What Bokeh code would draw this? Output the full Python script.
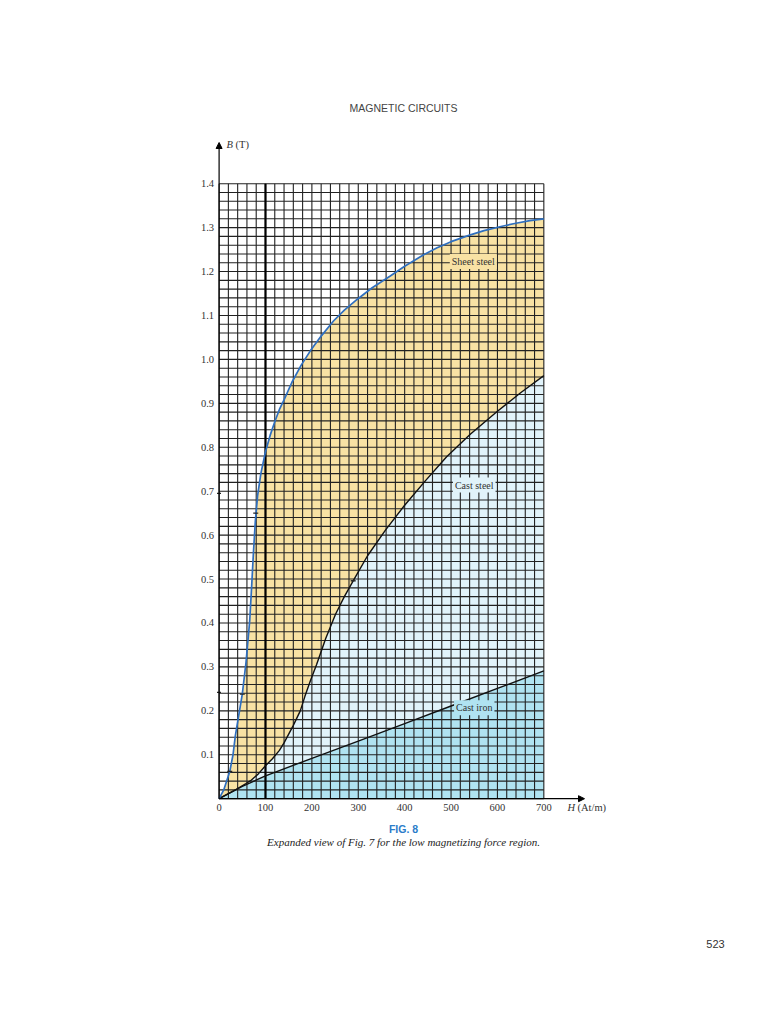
import numpy as np
from bokeh.plotting import figure
from bokeh.models import Range1d, Label, Arrow, NormalHead
from bokeh.core.properties import value
from bokeh.embed import file_html
from bokeh.resources import INLINE

# ---------------- data ----------------
sheet_H = [0, 10, 23, 30, 35, 40, 50, 58, 66, 70, 74, 78, 83, 90, 100, 110, 120, 130,
           140, 157, 177, 197, 220, 247, 270, 298, 330, 369, 400, 441, 470, 500, 540,
           571, 610, 640, 670, 700]
sheet_B = [0, 0.02, 0.062, 0.10, 0.143, 0.175, 0.238, 0.31, 0.405, 0.48, 0.56, 0.63,
           0.69, 0.74, 0.79, 0.827, 0.858, 0.886, 0.908, 0.948, 0.987, 1.02, 1.053,
           1.088, 1.112, 1.137, 1.163, 1.19, 1.212, 1.238, 1.254, 1.268, 1.283, 1.293,
           1.303, 1.31, 1.316, 1.32]

caststeel_H = [0, 30, 57, 68, 85, 100, 115, 130, 140, 150, 160, 175, 185, 197, 210, 230,
               251, 270, 289, 320, 359, 400, 445, 490, 542, 600, 650, 700]
caststeel_B = [0, 0.017, 0.034, 0.041, 0.057, 0.075, 0.091, 0.11, 0.127, 0.147, 0.167,
               0.20, 0.233, 0.269, 0.305, 0.365, 0.42, 0.46, 0.496, 0.553, 0.612, 0.668,
               0.724, 0.778, 0.83, 0.882, 0.924, 0.963]

castiron_H = [0, 50, 100, 200, 300, 400, 500, 600, 700]
castiron_B = [0, 0.028, 0.052, 0.092, 0.131, 0.171, 0.211, 0.251, 0.291]

sheet_marks_H = [23, 50, 79]
sheet_marks_B = [0.062, 0.238, 0.65]
steel_marks_H = [289]
steel_marks_B = [0.496]
axis_marks_B = [0.242, 0.695]

x_ticks = [0, 100, 200, 300, 400, 500, 600, 700]
x_tick_labels = ["0", "100", "200", "300", "400", "500", "600", "700"]
y_ticks = [0.1, 0.2, 0.3, 0.4, 0.5, 0.6, 0.7, 0.8, 0.9, 1.0, 1.1, 1.2, 1.3, 1.4]
y_tick_labels = ["0.1", "0.2", "0.3", "0.4", "0.5", "0.6", "0.7", "0.8", "0.9", "1.0",
                 "1.1", "1.2", "1.3", "1.4"]

H_MAX, B_MAX = 700, 1.4
H_STEP, B_STEP = 20, 0.02
curve_labels = ["Sheet steel", "Cast steel", "Cast iron"]
curve_label_H = [548, 550, 550]
curve_label_B = [1.223, 0.714, 0.207]

# ---------------- layout / styles ----------------
W, HGT, OFFSET = 752, 1000, 0
PX0, PXS = 218.6, 0.4639      # page px of H=0, px per At/m
PY0, PYS = 798.2, 439.3       # page px of B=0, px per T


def hx(px):
    return (px - PX0) / PXS


def by(py):
    return (PY0 - py) / PYS


YELLOW = "#f8e2a4"
PALE = "#e1f3fa"
BLUE = "#b0e3f1"
GRID = "#222222"
SERIF = "Liberation Serif"
SANS = "Liberation Sans"

p = figure(width=W, height=HGT,
           x_range=Range1d(hx(OFFSET), hx(OFFSET + W)),
           y_range=Range1d(by(OFFSET + HGT), by(OFFSET)),
           output_backend="svg", toolbar_location=None,
           x_axis_type=None, y_axis_type=None, min_border=0,
           outline_line_color=None, background_fill_color="white",
           border_fill_color="white")

# filled regions
p.patch(sheet_H + [H_MAX], sheet_B + [0], fill_color=YELLOW, line_color=None)
p.patch(caststeel_H + [H_MAX], caststeel_B + [0], fill_color=PALE, line_color=None)
p.patch(castiron_H + [H_MAX], castiron_B + [0], fill_color=BLUE, line_color=None)

# fine grid
gx = np.arange(0, H_MAX + 1, H_STEP)
gy = np.round(np.arange(0, B_MAX + 1e-9, B_STEP), 4)
p.segment(x0=gx, y0=0, x1=gx, y1=B_MAX, line_color=GRID, line_width=1.1)
p.segment(x0=0, y0=gy, x1=H_MAX, y1=gy, line_color=GRID, line_width=1.1)
p.segment(x0=[100], y0=[0], x1=[100], y1=[B_MAX], line_color="black", line_width=2.2)

# curves
p.line(castiron_H, castiron_B, line_color="#111111", line_width=1.4)
p.line(caststeel_H, caststeel_B, line_color="#111111", line_width=1.4)
p.line(sheet_H, sheet_B, line_color="#2f6fbf", line_width=1.7)

p.scatter(sheet_marks_H, sheet_marks_B, marker="dash", size=5, line_color="#222222",
          line_width=1.2)
p.scatter(steel_marks_H, steel_marks_B, marker="dash", size=5, line_color="#222222",
          line_width=1.5)
p.scatter([hx(218.5)] * len(axis_marks_B), axis_marks_B, marker="dash", size=4,
          line_color="#222222", line_width=1.2)

# axes with arrows
p.add_layout(Arrow(end=NormalHead(size=6, fill_color="black", line_color="black"),
                   x_start=0, y_start=0, x_end=0, y_end=by(142),
                   line_color="black", line_width=1.2))
p.add_layout(Arrow(end=NormalHead(size=6, fill_color="black", line_color="black"),
                   x_start=0, y_start=0, x_end=hx(584), y_end=0,
                   line_color="black", line_width=1.2))

# tick labels
p.text(x=[0] * len(y_ticks), y=y_ticks, text=y_tick_labels, x_offset=-5,
       text_align="right", text_baseline="middle", text_font=value(SERIF),
       text_font_size="10.5px", text_color="#333333")
p.text(x=x_ticks, y=[0] * len(x_ticks), text=x_tick_labels, y_offset=9,
       text_align="center", text_baseline="middle", text_font=value(SERIF),
       text_font_size="10.5px", text_color="#333333")

# axis titles
p.text(x=[hx(226)], y=[by(144)], text=["B"], text_align="left", text_baseline="middle",
       text_font=value(SERIF), text_font_style="italic", text_font_size="10.5px",
       text_color="#333333")
p.text(x=[hx(235)], y=[by(144)], text=["(T)"], text_align="left", text_baseline="middle",
       text_font=value(SERIF), text_font_size="10.5px", text_color="#333333")
p.text(x=[hx(567)], y=[by(807)], text=["H"], text_align="left", text_baseline="middle",
       text_font=value(SERIF), text_font_style="italic", text_font_size="10.5px",
       text_color="#333333")
p.text(x=[hx(577)], y=[by(807)], text=["(At/m)"], text_align="left",
       text_baseline="middle", text_font=value(SERIF), text_font_size="10.5px",
       text_color="#333333")

# curve labels with background boxes
for t, hh, bb, bg in zip(curve_labels, curve_label_H, curve_label_B, [YELLOW, PALE, BLUE]):
    p.add_layout(Label(x=hh, y=bb, text=t, text_align="center", text_baseline="middle",
                       text_font=SERIF, text_font_size="10px", text_color="#333333",
                       background_fill_color=bg, padding=2))

# page texts
p.text(x=[hx(403)], y=[by(107)], text=["MAGNETIC CIRCUITS"], text_align="center",
       text_baseline="middle", text_font=value(SANS), text_font_size="10.5px",
       text_color="#444444")
p.text(x=[hx(403)], y=[by(828)], text=["FIG. 8"], text_align="center",
       text_baseline="middle", text_font=value(SANS), text_font_style="bold",
       text_font_size="10.5px", text_color="#2b7cc9")
p.text(x=[hx(403)], y=[by(841)],
       text=["Expanded view of Fig. 7 for the low magnetizing force region."],
       text_align="center", text_baseline="middle", text_font=value(SERIF),
       text_font_style="italic", text_font_size="11px", text_color="#222222")
p.text(x=[hx(715)], y=[by(943)], text=["523"], text_align="center",
       text_baseline="middle", text_font=value(SANS), text_font_size="11px",
       text_color="#333333")

open("out.html", "w").write(file_html(p, INLINE))
